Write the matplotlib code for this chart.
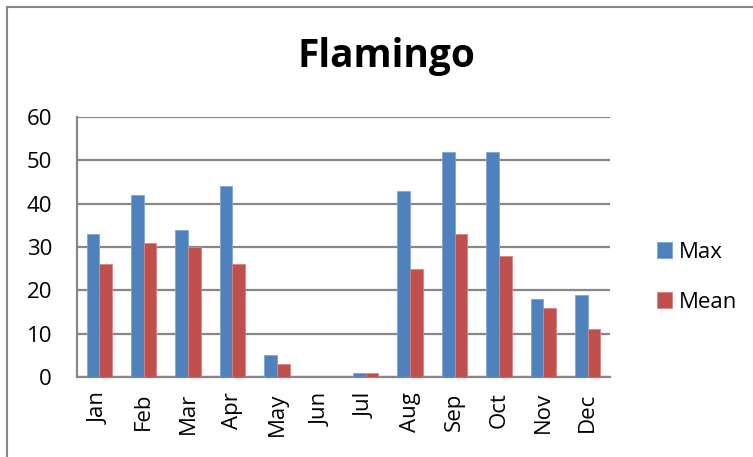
import matplotlib
matplotlib.use("Agg")
import matplotlib.pyplot as plt
import numpy as np
from matplotlib.patches import Rectangle

months = ["Jan", "Feb", "Mar", "Apr", "May", "Jun", "Jul", "Aug", "Sep", "Oct", "Nov", "Dec"]
max_vals = [33, 42, 34, 44, 5, 0, 1, 43, 52, 52, 18, 19]
mean_vals = [26, 31, 30, 26, 3, 0, 1, 25, 33, 28, 16, 11]
yticks = [0, 10, 20, 30, 40, 50, 60]

plt.rcParams['font.family'] = ['Open Sans', 'DejaVu Sans']

W, H = 753, 457
fig = plt.figure(figsize=(W / 100, H / 100), dpi=100)
ax = fig.add_axes([77 / W, 1 - 377 / H, (610 - 77) / W, (377 - 117) / H])

x = np.arange(len(months))
bw = 1 / 3.5
ax.bar(x - bw / 2, max_vals, bw, color="#4F81BD", edgecolor="#7FA6D6", linewidth=0.6, label="Max", zorder=3)
ax.bar(x + bw / 2, mean_vals, bw, color="#C0504D", edgecolor="#D9827F", linewidth=0.6, label="Mean", zorder=3)

ax.set_xlim(-0.5, len(months) - 0.5)
ax.set_ylim(0, 60)
ax.set_yticks(yticks)
ax.set_xticks(x)
ax.set_xticklabels(months, rotation=90, fontsize=16)
ax.tick_params(axis="y", length=0, labelsize=16, pad=18)
ax.tick_params(axis="x", length=0, pad=11)
ax.yaxis.grid(True, color="#878787", linewidth=1.6, zorder=0)
ax.set_axisbelow(True)
for s in ["top", "right"]:
    ax.spines[s].set_visible(False)
for s in ["left", "bottom"]:
    ax.spines[s].set_color("#878787")
    ax.spines[s].set_linewidth(1.6)

fig.text(386 / W, 1 - 57 / H, "Flamingo", ha="center", va="center", fontsize=28, fontweight="bold")

leg = fig.legend(loc="upper left", bbox_to_anchor=(648 / W, 1 - 233 / H), frameon=False,
                 fontsize=16, handlelength=0.7, handleheight=0.7, handletextpad=0.3,
                 labelspacing=1.3, borderaxespad=0)

fig.patches.append(Rectangle((7 / W, -0.1), 1.2, 1 - 7 / H + 0.1, transform=fig.transFigure,
                             fill=False, edgecolor="#868686", linewidth=1.5))

fig.savefig("out.png", dpi=100)
